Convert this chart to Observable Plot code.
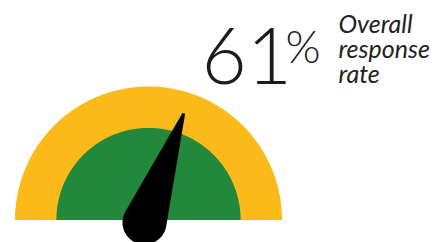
<!DOCTYPE html>
<html><head><meta charset="utf-8">
<script src="https://cdn.jsdelivr.net/npm/d3@7"></script>
<script src="https://cdn.jsdelivr.net/npm/@observablehq/plot@0.6"></script>
<style>html,body{margin:0;padding:0;background:#fff;} #chart svg{display:block}</style>
</head><body><div id="chart"></div>
<script>
// ---- data ----
const valuePct = 61;
const valueText = ["61"];
const unitText = ["%"];
const labelLines = ["Overall", "response", "rate"];
const bandNames = ["range", "core"];
const bandRadii = [1, 0.69];
const bandColors = ["#FBBA19", "#21883C"];

// ---- layout ----
const W = 438, H = 242, cx = 148.5, cy = 220, k = 133.5;
const xDomain = [-cx / k, (W - cx) / k];
const yDomain = [-(H - cy) / k, cy / k];

// band semicircles
const bandPts = bandNames.flatMap((name, i) =>
  d3.range(0, 181, 0.5).map(deg => {
    const t = deg * Math.PI / 180;
    return {band: name, x: bandRadii[i] * Math.cos(t), y0: 0, y: bandRadii[i] * Math.sin(t)};
  })
);

// needle geometry derived from the value
const pivot = [-4.5 / k, -2 / k];
const needleLen = 116 / k, baseR = 22 / k, tipHalf = 1.4 / k;
const phi = Math.PI * (1 - valuePct / 100);
const dir = [Math.cos(phi), Math.sin(phi)], perp = [-Math.sin(phi), Math.cos(phi)];
const tip = [pivot[0] + needleLen * dir[0], pivot[1] + needleLen * dir[1]];
const alpha = Math.acos(baseR / needleLen);
const needlePts = [{x: tip[0] + tipHalf * perp[0], y: tip[1] + tipHalf * perp[1]}];
d3.range(0, 121).forEach(i => {
  const a = phi + alpha + (2 * Math.PI - 2 * alpha) * i / 120;
  needlePts.push({x: pivot[0] + baseR * Math.cos(a), y: pivot[1] + baseR * Math.sin(a)});
});
needlePts.push({x: tip[0] - tipHalf * perp[0], y: tip[1] - tipHalf * perp[1]});

const font = "Lato, 'Noto Sans', sans-serif";

const chart = Plot.plot({
  width: W, height: H,
  marginTop: 0, marginRight: 0, marginBottom: 0, marginLeft: 0,
  x: {domain: xDomain, axis: null},
  y: {domain: yDomain, axis: null},
  color: {domain: bandNames, range: bandColors},
  style: {fontFamily: font, background: "white"},
  marks: [
    Plot.area(bandPts, {x1: "x", y1: "y0", y2: "y", z: "band", fill: "band"}),
    Plot.line(needlePts, {x: "x", y: "y", fill: "black", stroke: "none"}),
    Plot.text(valueText, {text: d => d, frameAnchor: "top-left", dx: 201, dy: 83, textAnchor: "start", lineAnchor: "bottom", fontSize: 78, fontWeight: 300, fill: "#1b1b1b"}),
    Plot.text(unitText, {text: d => d, frameAnchor: "top-left", dx: 285, dy: 62, textAnchor: "start", lineAnchor: "bottom", fontSize: 45, fontWeight: 300, fill: "#1b1b1b"}),
    Plot.text([labelLines.join("\n")], {text: d => d, frameAnchor: "top-left", dx: 338, dy: 82, textAnchor: "start", lineAnchor: "bottom", lineHeight: 1, fontSize: 25, fontStyle: "italic", fontWeight: 400, fill: "#222"})
  ]
});
document.getElementById("chart").appendChild(chart);
</script>
</body></html>
